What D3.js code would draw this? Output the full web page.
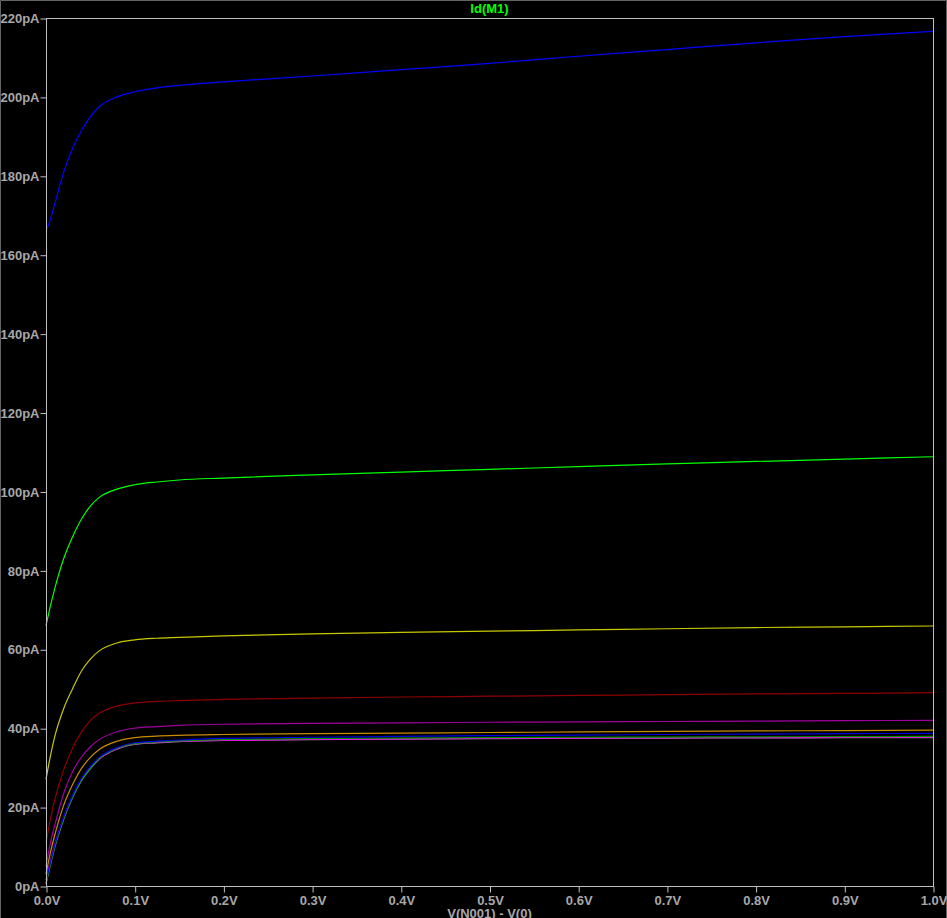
<!DOCTYPE html>
<html>
<head>
<meta charset="utf-8">
<script src="https://cdn.jsdelivr.net/npm/d3@7"></script>
<style>
  html, body { margin: 0; padding: 0; background: #000; }
  svg { display: block; }
  text { font-family: "Liberation Sans", Arial, sans-serif; font-weight: bold; }
</style>
</head>
<body>
<svg id="chart" width="947" height="918"></svg>
<script>
// ---- data ----
const voltages = [0, 0.005, 0.01, 0.02, 0.03, 0.04, 0.05, 0.06, 0.08, 0.1, 0.125, 0.15, 0.2, 0.3, 0.4, 0.5, 0.6, 0.7, 0.8, 0.9, 1.0];
const xTicks = [0, 0.1, 0.2, 0.3, 0.4, 0.5, 0.6, 0.7, 0.8, 0.9, 1.0];
const yTicks = [0, 20, 40, 60, 80, 100, 120, 140, 160, 180, 200, 220];
const titleText = "Id(M1)";
const xLabel = "V(N001) - V(0)";

const seriesBlue   = [166, 169, 173, 181, 187, 191.5, 195, 197.5, 200, 201.3, 202.3, 202.9, 203.8, 205.3, 206.9, 208.5, 210.3, 212, 213.7, 215.3, 216.6];
const seriesGreen  = [66, 71, 75.5, 83, 88.5, 93, 96.3, 98.5, 100.6, 101.7, 102.4, 102.9, 103.4, 104.2, 104.9, 105.6, 106.3, 107, 107.6, 108.2, 108.8];
const seriesYellow = [27, 33, 38, 45, 50, 54.5, 57.5, 59.6, 61.6, 62.4, 62.8, 63, 63.4, 63.9, 64.3, 64.6, 64.9, 65.2, 65.5, 65.7, 65.9];
const seriesDarkRed= [11, 17, 22, 29.5, 35, 39, 42, 43.8, 45.6, 46.4, 46.8, 47.0, 47.3, 47.6, 47.9, 48.1, 48.3, 48.5, 48.7, 48.8, 49.0];
const seriesPurple = [5, 11, 15.5, 23.5, 29, 32.7, 35.3, 37.1, 39.1, 40.0, 40.4, 40.7, 41.0, 41.2, 41.35, 41.5, 41.6, 41.7, 41.8, 41.9, 42.0];
const seriesOrange = [3, 8.5, 13, 20.5, 25.7, 29.8, 32.6, 34.6, 36.7, 37.6, 38.0, 38.2, 38.4, 38.6, 38.75, 38.9, 39.05, 39.2, 39.3, 39.4, 39.5];
const seriesBlue2  = [1, 6, 10.5, 17.5, 23, 27.3, 30.3, 32.6, 35.1, 36.3, 36.7, 37.0, 37.4, 37.7, 37.9, 38.1, 38.25, 38.4, 38.5, 38.6, 38.7];
const seriesGreen2 = [0.7, 5.6, 10.1, 17.1, 22.6, 26.9, 29.9, 32.3, 34.9, 36.1, 36.5, 36.8, 37.1, 37.35, 37.5, 37.6, 37.7, 37.75, 37.8, 37.85, 37.9];
const seriesMagenta= [1.5, 6.3, 10.6, 17.4, 22.8, 27.0, 30.0, 32.2, 34.8, 36.0, 36.4, 36.7, 36.9, 37.15, 37.3, 37.4, 37.5, 37.55, 37.6, 37.65, 37.7];
const seriesGray   = [0.5, 5.4, 9.9, 16.9, 22.4, 26.7, 29.7, 32.1, 34.7, 35.9, 36.3, 36.6, 36.9, 37.1, 37.25, 37.35, 37.45, 37.5, 37.55, 37.58, 37.6];

const series = [
  { name: "s1", color: "#0000ff", values: seriesBlue },
  { name: "s2", color: "#00ff00", values: seriesGreen },
  { name: "s3", color: "#c8c800", values: seriesYellow },
  { name: "s4", color: "#8c0000", values: seriesDarkRed },
  { name: "s5", color: "#a000a0", values: seriesPurple },
  { name: "s6", color: "#c88c00", values: seriesOrange },
  { name: "s10", color: "#808080", values: seriesGray },
  { name: "s9", color: "#ff00ff", values: seriesMagenta },
  { name: "s8", color: "#009600", values: seriesGreen2 },
  { name: "s7", color: "#0000e0", values: seriesBlue2 }
];

// ---- layout ----
const W = 947, H = 918;
const plot = { left: 46, right: 933, top: 18, bottom: 886 };
const svg = d3.select("#chart");

svg.append("rect").attr("x", 0).attr("y", 0).attr("width", W).attr("height", H).attr("fill", "#000");
// window border
svg.append("path").attr("d", `M0.5,${H} V0.5 H${W - 0.5} V${H}`)
  .attr("fill", "none").attr("stroke", "#646464").attr("stroke-width", 1);

const x = d3.scaleLinear().domain([0, 1]).range([plot.left, plot.right]);
const y = d3.scaleLinear().domain([0, 220]).range([plot.bottom, plot.top]);

const axisColor = "#c0c0c0";
const labelColor = "#a8a8a8";

// curves
const g = svg.append("g");
const line = d3.line().x((d, i) => x(voltages[i])).y(d => y(d)).curve(d3.curveMonotoneX);
series.forEach(s => {
  g.append("path").datum(s.values)
    .attr("d", line)
    .attr("fill", "none")
    .attr("stroke", s.color)
    .attr("stroke-width", 1.2);
});

// plot frame
svg.append("rect")
  .attr("x", plot.left + 0.5).attr("y", plot.top + 0.5)
  .attr("width", plot.right - plot.left).attr("height", plot.bottom - plot.top)
  .attr("fill", "none").attr("stroke", axisColor).attr("stroke-width", 1);

// axes
const xAxis = d3.axisBottom(x).tickValues(xTicks).tickSize(6).tickPadding(3)
  .tickFormat(d => d3.format(".1f")(d) + "V");
const gx = svg.append("g").attr("transform", `translate(0.5,${plot.bottom + 0.5})`).call(xAxis);
const yAxis = d3.axisLeft(y).tickValues(yTicks).tickSize(6).tickPadding(1)
  .tickFormat(d => d + "pA");
const gy = svg.append("g").attr("transform", `translate(${plot.left + 0.5},0.5)`).call(yAxis);

[gx, gy].forEach(a => {
  a.select(".domain").remove();
  a.selectAll(".tick line").attr("stroke", axisColor);
  a.selectAll(".tick text").attr("fill", labelColor)
    .style("font-size", "13px").style("font-weight", "bold")
    .style("font-family", "'Liberation Sans', Arial, sans-serif");
});

// title
svg.append("text").attr("x", (plot.left + plot.right) / 2).attr("y", 13)
  .attr("text-anchor", "middle").attr("fill", "#00ff00")
  .style("font-size", "13px").text(titleText);

// x label
svg.append("text").attr("x", (plot.left + plot.right) / 2).attr("y", 918)
  .attr("text-anchor", "middle").attr("fill", labelColor)
  .style("font-size", "13px").text(xLabel);
</script>
</body>
</html>
